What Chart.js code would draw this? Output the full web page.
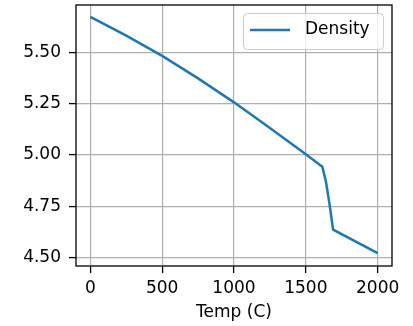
<!DOCTYPE html>
<html>
<head>
<meta charset="utf-8">
<script src="https://cdn.jsdelivr.net/npm/chart.js@4"></script>
<style>
  body { margin: 0; background: #fff; }
</style>
</head>
<body>
<canvas id="density-chart" width="413" height="326"></canvas>
<script>
// values
const temps = [0, 250, 500, 750, 1000, 1250, 1500, 1615, 1640, 1665, 1690, 2000];
const density = [5.675, 5.583, 5.484, 5.374, 5.257, 5.132, 5.003, 4.942, 4.87, 4.76, 4.635, 4.52];
const xTicks = [0, 500, 1000, 1500, 2000];
const yTicks = [4.5, 4.75, 5.0, 5.25, 5.5];
const seriesLabel = 'Density';
const xTitle = 'Temp (C)';

const FONT = 'DejaVu Sans';
const BLUE = '#1f77b4';

// matplotlib style box round the plot
const framePlugin = {
  id: 'frame',
  afterDraw(chart) {
    const {ctx, chartArea: a} = chart;
    ctx.save();
    ctx.strokeStyle = '#000';
    ctx.lineWidth = 1.3;
    ctx.strokeRect(a.left, a.top, a.right - a.left, a.bottom - a.top);
    ctx.restore();
  }
};

// legend sitting inside the plot, upper right
const innerLegend = {
  id: 'innerLegend',
  afterDraw(chart) {
    const {ctx, chartArea: a} = chart;
    const ds = chart.data.datasets[0];
    const w = 140, h = 36;
    const x = a.right - 9 - w, y = a.top + 8;
    ctx.save();
    ctx.beginPath();
    ctx.roundRect(x + 0.5, y + 0.5, w, h, 4);
    ctx.fillStyle = 'rgba(255,255,255,0.8)';
    ctx.fill();
    ctx.strokeStyle = '#cccccc';
    ctx.lineWidth = 1;
    ctx.stroke();
    ctx.beginPath();
    ctx.moveTo(x + 7, y + 17);
    ctx.lineTo(x + 47, y + 17);
    ctx.strokeStyle = ds.borderColor;
    ctx.lineWidth = 2.5;
    ctx.stroke();
    ctx.fillStyle = '#000';
    ctx.font = '17px "' + FONT + '"';
    ctx.textBaseline = 'middle';
    ctx.fillText(ds.label, x + 62, y + 17);
    ctx.restore();
  }
};

const chart = new Chart(document.getElementById('density-chart'), {
  type: 'line',
  data: {
    datasets: [{
      label: seriesLabel,
      data: temps.map((t, i) => ({x: t, y: density[i]})),
      borderColor: BLUE,
      borderWidth: 2.5,
      pointRadius: 0,
      tension: 0,
      fill: false
    }]
  },
  options: {
    responsive: false,
    animation: false,
    devicePixelRatio: 1,
    layout: {
      padding: {top: 5, right: 21, left: 0, bottom: 0}
    },
    scales: {
      x: {
        type: 'linear',
        min: -100,
        max: 2100,
        afterBuildTicks: (axis) => { axis.ticks = xTicks.map(v => ({value: v})); },
        afterFit: (axis) => {
          axis.height = 60;
          axis.paddingLeft = 0;
          axis.paddingRight = 0;
        },
        grid: {
          color: '#b0b0b0',
          lineWidth: 1.2,
          tickColor: '#000',
          tickLength: 7,
          tickWidth: 1.3
        },
        border: { display: false },
        ticks: {
          color: '#000',
          padding: 5,
          maxRotation: 0,
          font: { family: FONT, size: 17 },
          callback: (v) => String(v)
        },
        title: {
          display: true,
          text: xTitle,
          color: '#000',
          padding: { top: 0, bottom: 3 },
          font: { family: FONT, size: 17 }
        }
      },
      y: {
        type: 'linear',
        min: 4.4575,
        max: 5.7325,
        afterBuildTicks: (axis) => { axis.ticks = yTicks.map(v => ({value: v})); },
        afterFit: (axis) => {
          axis.width = 76;
          axis.paddingTop = 0;
          axis.paddingBottom = 0;
        },
        grid: {
          color: '#b0b0b0',
          lineWidth: 1.2,
          tickColor: '#000',
          tickLength: 7,
          tickWidth: 1.3
        },
        border: { display: false },
        ticks: {
          color: '#000',
          padding: 8,
          font: { family: FONT, size: 17 },
          callback: (v) => v.toFixed(2)
        }
      }
    },
    plugins: {
      legend: { display: false },
      tooltip: { enabled: false }
    }
  },
  plugins: [framePlugin, innerLegend]
});
</script>
</body>
</html>
